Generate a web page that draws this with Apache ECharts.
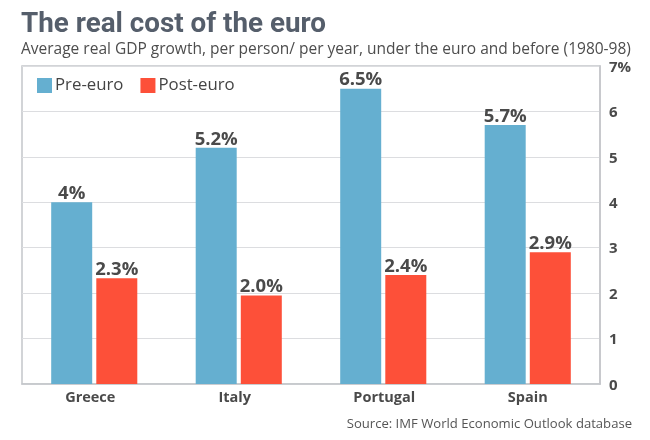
<!DOCTYPE html>
<html><head><meta charset="utf-8">
<style>html,body{margin:0;padding:0;background:#fff}#c{width:650px;height:440px}</style>
<script src="https://cdn.jsdelivr.net/npm/echarts@6/dist/echarts.min.js"></script>
</head><body><div id="c"></div>
<script>
const categories = ['Greece','Italy','Portugal','Spain'];
const preEuro = [4, 5.2, 6.5, 5.7];
const postEuro = [2.33, 1.95, 2.4, 2.9];
const preLabels = ['4%','5.2%','6.5%','5.7%'];
const postLabels = ['2.3%','2.0%','2.4%','2.9%'];
const axisLabels = ['0','1','2','3','4','5','6','7%'];
const font = '"Open Sans"';
const labelStyle = {show:true,position:'top',distance:-1,fontFamily:font,fontWeight:'bold',fontSize:18.5,color:'#4a4a4a'};
const xLabelPadding = [[0,8,0,0],[0,8,0,0],[0,0,0,2],[0,0,0,0]];
const chart = echarts.init(document.getElementById('c'),null,{renderer:'canvas'});
chart.setOption({
  animation:false,
  backgroundColor:'#fff',
  title:[
    {text:'The real cost of the euro',left:21,top:11,padding:0,textStyle:{fontFamily:'Roboto',fontWeight:'bold',fontSize:27.8,color:'#555e6b'}},
    {text:'Average real GDP growth, per person/ per year, under the euro and before (1980-98)',left:21,top:42,padding:0,textStyle:{fontFamily:font,fontWeight:'normal',fontSize:15.5,color:'#4d4d4d'}},
    {text:'Source: IMF World Economic Outlook database',right:18,top:418,padding:0,textStyle:{fontFamily:font,fontWeight:'normal',fontSize:13.1,color:'#555'}}
  ],
  legend:{left:37,top:77,padding:0,itemWidth:15,itemHeight:15,itemGap:17,icon:'rect',
    textStyle:{fontFamily:font,fontSize:16.8,color:'#444',padding:[0,0,0,-2]},data:['Pre-euro','Post-euro']},
  grid:{left:22,right:50,top:66,bottom:56,show:true,borderColor:'#c4c6ca',borderWidth:1.5},
  xAxis:{type:'category',
    data:categories.map((c,i)=>({value:c,textStyle:{padding:xLabelPadding[i]}})),
    axisLine:{lineStyle:{color:'#c4c6ca',width:1.5}},axisTick:{show:false},
    axisLabel:{margin:6,fontFamily:font,fontWeight:'bold',fontSize:14.5,color:'#4a4a4a'}},
  yAxis:{type:'value',position:'right',min:0,max:7,interval:1,
    axisLine:{show:true,lineStyle:{color:'#c4c6ca',width:1.5}},axisTick:{show:false},
    axisLabel:{margin:9,verticalAlign:'top',lineHeight:3,fontFamily:font,fontWeight:'bold',fontSize:15,color:'#4a4a4a',
      formatter:(v)=>axisLabels[v]},
    splitLine:{show:true,lineStyle:{color:'#dcdde0',width:1}}},
  series:[
    {name:'Pre-euro',type:'bar',data:preEuro,barWidth:41,barGap:'10%',itemStyle:{color:'#65afd0'},
      label:{...labelStyle,formatter:(p)=>preLabels[p.dataIndex]}},
    {name:'Post-euro',type:'bar',data:postEuro,barWidth:41,barGap:'10%',itemStyle:{color:'#fd5039'},
      label:{...labelStyle,formatter:(p)=>postLabels[p.dataIndex]}}
  ]
});
</script></body></html>
